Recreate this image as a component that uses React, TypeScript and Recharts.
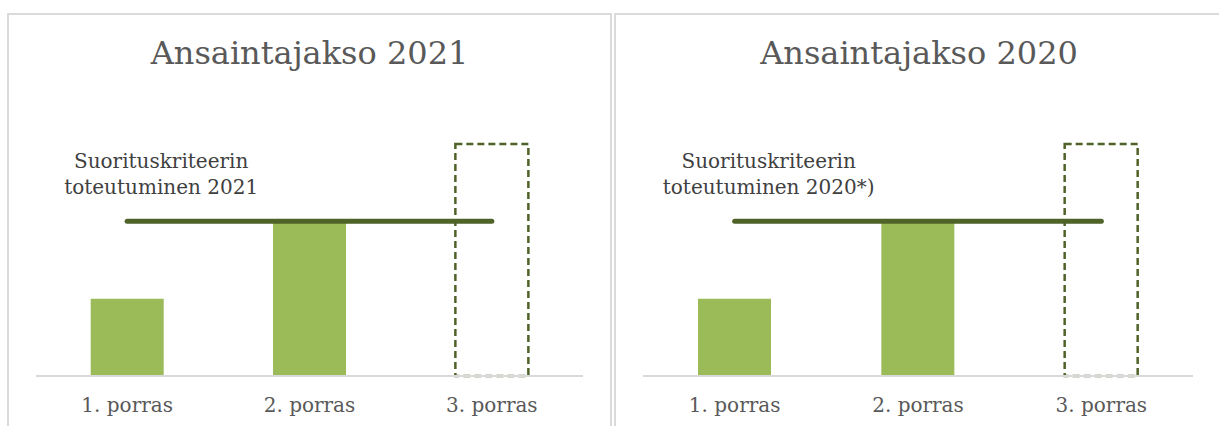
import { BarChart, Bar, Line, XAxis, YAxis, LabelList, ComposedChart } from 'recharts';

const categories = ['1. porras', '2. porras', '3. porras'];

// Ansaintajakso 2021
const achieved2021 = [1, 2, 0];
const open2021 = [0, 0, 3];
const criterion2021 = [2, 2, 2];
const note2021 = ['Suorituskriteerin|toteutuminen 2021', '', ''];

// Ansaintajakso 2020
const achieved2020 = [1, 2, 0];
const open2020 = [0, 0, 3];
const criterion2020 = [2, 2, 2];
const note2020 = ['Suorituskriteerin|toteutuminen 2020*)', '', ''];

const FONT = '"DejaVu Serif", serif';
const LIGHT = '#9bbb59';
const DARK = '#4f6228';

const buildRows = (achieved: number[], open: number[], criterion: number[], note: string[]) =>
  categories.map((name, i) => ({
    name,
    achieved: achieved[i],
    open: open[i],
    criterion: criterion[i],
    note: note[i],
  }));

const renderNote = (props: any) => {
  const { x, y, value } = props;
  if (!value) return null;
  const [first, second] = String(value).split('|');
  const cx = Number(x) + 34;
  return (
    <text x={cx} y={Number(y) - 53} textAnchor="middle" fill="#404040" fontSize={20} fontFamily={FONT}>
      <tspan x={cx}>{first}</tspan>
      <tspan x={cx} dy={26}>{second}</tspan>
    </text>
  );
};

interface PanelProps {
  title: string;
  rows: ReturnType<typeof buildRows>;
  panelLeft: number;
  panelWidth: number;
  chartLeft: number;
  chartWidth: number;
  marginLeft: number;
  marginRight: number;
}

function Panel({ title, rows, panelLeft, panelWidth, chartLeft, chartWidth, marginLeft, marginRight }: PanelProps) {
  return (
    <>
      <div
        style={{
          position: 'absolute',
          left: panelLeft,
          top: 13,
          width: panelWidth,
          height: 440,
          boxSizing: 'border-box',
          border: '2px solid #dadada',
        }}
      />
      <div
        style={{
          position: 'absolute',
          left: panelLeft,
          top: 35,
          width: panelWidth,
          textAlign: 'center',
          fontFamily: FONT,
          fontSize: 32,
          lineHeight: '36px',
          color: '#595959',
        }}
      >
        {title}
      </div>
      <div style={{ position: 'absolute', left: chartLeft, top: 14 }}>
        <ComposedChart
          width={chartWidth}
          height={412}
          data={rows}
          margin={{ top: 130, right: marginRight, left: marginLeft, bottom: 0 }}
          barCategoryGap="30%"
        >
          <XAxis
            dataKey="name"
            height={50}
            tickLine={false}
            tickSize={0}
            tickMargin={22}
            axisLine={{ stroke: '#d9d9d9', strokeWidth: 2 }}
            tick={{ fill: '#595959', fontSize: 20, fontFamily: FONT }}
          />
          <YAxis hide domain={[0, 3]} />
          <Bar dataKey="achieved" stackId="a" fill={LIGHT} isAnimationActive={false} />
          <Bar
            dataKey="open"
            stackId="a"
            fill="none"
            stroke={DARK}
            strokeWidth={2.5}
            strokeDasharray="7 4"
            isAnimationActive={false}
          />
          <Line
            dataKey="criterion"
            stroke={DARK}
            strokeWidth={5}
            strokeLinecap="round"
            dot={false}
            activeDot={false}
            isAnimationActive={false}
          >
            <LabelList dataKey="note" content={renderNote} />
          </Line>
        </ComposedChart>
      </div>
    </>
  );
}

export default function App() {
  return (
    <div style={{ position: 'absolute', left: 0, top: 0, width: 1219, height: 426, overflow: 'hidden', background: '#fff' }}>
      <Panel
        title="Ansaintajakso 2021"
        rows={buildRows(achieved2021, open2021, criterion2021, note2021)}
        panelLeft={7}
        panelWidth={605}
        chartLeft={8}
        chartWidth={603}
        marginLeft={28}
        marginRight={28}
      />
      <Panel
        title="Ansaintajakso 2020"
        rows={buildRows(achieved2020, open2020, criterion2020, note2020)}
        panelLeft={614}
        panelWidth={610}
        chartLeft={615}
        chartWidth={604}
        marginLeft={28}
        marginRight={26}
      />
    </div>
  );
}
